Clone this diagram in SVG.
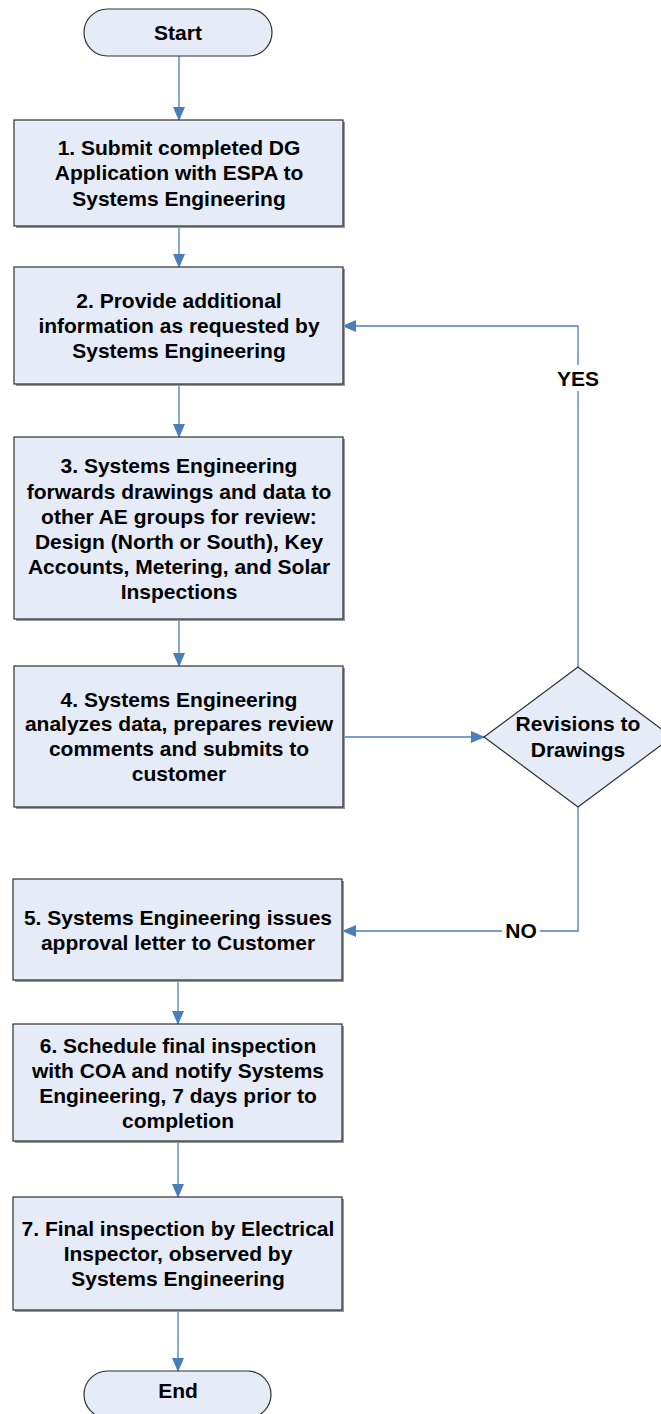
<svg xmlns="http://www.w3.org/2000/svg" width="661" height="1414" viewBox="0 0 661 1414">
<defs>
<marker id="arr" markerWidth="14" markerHeight="12" refX="13" refY="6" orient="auto" markerUnits="userSpaceOnUse">
<path d="M0,0 L14,6 L0,12 Z" fill="#4a7ebb"/>
</marker>
</defs>
<style>
.box{fill:#e6ecf7;stroke:#303030;stroke-width:1.2}
.sh{fill:#9a9a9a}
.t{font-family:"Liberation Sans",Arial,sans-serif;font-weight:bold;font-size:21px;fill:#000;text-anchor:middle;dominant-baseline:central}
.c{fill:none;stroke:#4a7ebb;stroke-width:1.3}
.lbl{fill:#fff}
</style>
<rect width="661" height="1414" fill="#fff"/>
<g id="connectors">
<line class="c" x1="179" y1="56" x2="179" y2="120" marker-end="url(#arr)"/>
<line class="c" x1="179" y1="226" x2="179" y2="267" marker-end="url(#arr)"/>
<line class="c" x1="179" y1="384" x2="179" y2="437" marker-end="url(#arr)"/>
<line class="c" x1="179" y1="619" x2="179" y2="666" marker-end="url(#arr)"/>
<line class="c" x1="343" y1="737" x2="484" y2="737" marker-end="url(#arr)"/>
<polyline class="c" points="578,667 578,326 343,326" marker-end="url(#arr)"/>
<polyline class="c" points="578,807 578,931 343,931" marker-end="url(#arr)"/>
<line class="c" x1="178" y1="980" x2="178" y2="1024" marker-end="url(#arr)"/>
<line class="c" x1="178" y1="1141" x2="178" y2="1197" marker-end="url(#arr)"/>
<line class="c" x1="178" y1="1310" x2="178" y2="1371" marker-end="url(#arr)"/>
<rect class="lbl" x="553" y="365" width="50" height="26"/>
<text class="t" x="578" y="378">YES</text>
<rect class="lbl" x="502" y="918" width="38" height="26"/>
<text class="t" x="521" y="930">NO</text>
</g>
<g id="start">
<rect class="box" x="84" y="9" width="188" height="47" rx="23.5"/>
<text class="t" x="178" y="32">Start</text>
</g>
<g id="step1">
<rect class="sh" x="16" y="122" width="329" height="106"/>
<rect class="box" x="14" y="120" width="329" height="106"/>
<text class="t" x="179" y="147">1. Submit completed DG</text>
<text class="t" x="179" y="172">Application with ESPA to</text>
<text class="t" x="179" y="198">Systems Engineering</text>
</g>
<g id="step2">
<rect class="sh" x="16" y="269" width="329" height="117"/>
<rect class="box" x="14" y="267" width="329" height="117"/>
<text class="t" x="179" y="300">2. Provide additional</text>
<text class="t" x="179" y="325">information as requested by</text>
<text class="t" x="179" y="350">Systems Engineering</text>
</g>
<g id="step3">
<rect class="sh" x="16" y="439" width="329" height="182"/>
<rect class="box" x="14" y="437" width="329" height="182"/>
<text class="t" x="179" y="465">3. Systems Engineering</text>
<text class="t" x="179" y="491">forwards drawings and data to</text>
<text class="t" x="179" y="516">other AE groups for review:</text>
<text class="t" x="179" y="541">Design (North or South), Key</text>
<text class="t" x="179" y="566">Accounts,  Metering, and Solar</text>
<text class="t" x="179" y="591">Inspections</text>
</g>
<g id="step4">
<rect class="sh" x="16" y="668" width="329" height="141"/>
<rect class="box" x="14" y="666" width="329" height="141"/>
<text class="t" x="179" y="699">4. Systems Engineering</text>
<text class="t" x="179" y="723">analyzes data, prepares review</text>
<text class="t" x="179" y="748">comments and submits to</text>
<text class="t" x="179" y="773">customer</text>
</g>
<g id="decision">
<polygon class="box" points="578,667 672,737 578,807 484,737"/>
<text class="t" x="578" y="723">Revisions to</text>
<text class="t" x="578" y="749">Drawings</text>
</g>
<g id="step5">
<rect class="sh" x="15" y="881" width="329" height="101"/>
<rect class="box" x="13" y="879" width="329" height="101"/>
<text class="t" x="178" y="917">5. Systems Engineering issues</text>
<text class="t" x="178" y="942">approval letter to Customer</text>
</g>
<g id="step6">
<rect class="sh" x="15" y="1026" width="329" height="117"/>
<rect class="box" x="13" y="1024" width="329" height="117"/>
<text class="t" x="178" y="1045">6. Schedule final inspection</text>
<text class="t" x="178" y="1070">with COA and notify Systems</text>
<text class="t" x="178" y="1095">Engineering, 7 days prior to</text>
<text class="t" x="178" y="1120">completion</text>
</g>
<g id="step7">
<rect class="sh" x="15" y="1199" width="329" height="113"/>
<rect class="box" x="13" y="1197" width="329" height="113"/>
<text class="t" x="178" y="1228">7. Final inspection by Electrical</text>
<text class="t" x="178" y="1253">Inspector, observed by</text>
<text class="t" x="178" y="1278">Systems Engineering</text>
</g>
<g id="end">
<rect class="box" x="84" y="1371" width="187" height="47" rx="23.5"/>
<text class="t" x="178" y="1390">End</text>
</g>
</svg>
